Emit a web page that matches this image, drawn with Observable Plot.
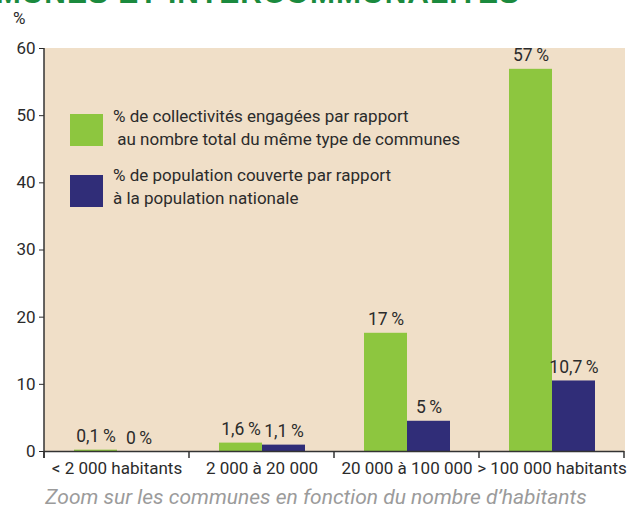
<!DOCTYPE html>
<html><head><meta charset="utf-8">
<script src="https://cdn.jsdelivr.net/npm/d3@7"></script>
<script src="https://cdn.jsdelivr.net/npm/@observablehq/plot@0.6"></script>
<style>
html,body{margin:0;padding:0;background:#fff;}
#wrap{position:relative;width:632px;height:513px;overflow:hidden;font-family:Roboto,sans-serif;color:#2b2b2b;}
#title{position:absolute;right:112px;top:-22px;white-space:nowrap;font:bold 30px "Liberation Sans",Arial,sans-serif;line-height:1;color:#1b8a3e;letter-spacing:1px;}
#unit{position:absolute;left:13px;top:8px;font-size:17px;}
.sw{position:absolute;left:70px;width:33px;height:32px;}
.lt{position:absolute;left:113px;font-size:17px;line-height:23px;white-space:pre;}
#caption{position:absolute;left:0;width:632px;top:485px;text-align:center;font-style:italic;font-size:21px;color:#9b9b9b;}
</style></head><body><div id="wrap"></div><script>
const categories = ["< 2 000 habitants", "2 000 à 20 000", "20 000 à 100 000", "> 100 000 habitants"];
const seriesKeys = ["coll", "pop"];
const seriesNames = [
  "% de collectivités engagées par rapport\n au nombre total du même type de communes",
  "% de population couverte par rapport\nà la population nationale"
];
const collectivites = [0.2, 1.25, 17.6, 56.9];
const population = [0, 0.95, 4.5, 10.5];
const collLabels = ["0,1\u2009%", "1,6\u2009%", "17\u2009%", "57\u2009%"];
const popLabels = ["0\u2009%", "1,1\u2009%", "5\u2009%", "10,7\u2009%"];
const yTicks = [0, 10, 20, 30, 40, 50, 60];
const colors = ["#8dc63f", "#302d78"];
const bg = "#f0dfc8";
const titleText = "COMMUNES ET INTERCOMMUNALITÉS";
const unitText = "%";
const captionText = "Zoom sur les communes en fonction du nombre d’habitants";

const data = categories.flatMap((c, i) => [
  {cat: c, key: seriesKeys[0], value: collectivites[i], label: collLabels[i]},
  {cat: c, key: seriesKeys[1], value: population[i], label: popLabels[i]}
]);

const chart = Plot.plot({
  width: 632, height: 482,
  marginTop: 48, marginBottom: 31, marginLeft: 44, marginRight: 8,
  style: {fontFamily: "Roboto, sans-serif", fontSize: "17px", color: "#2b2b2b", background: "transparent", overflow: "visible"},
  fx: {domain: categories, padding: 0, label: null, tickSize: 0, tickPadding: 10, axis: "bottom"},
  x: {domain: seriesKeys, paddingInner: 0, paddingOuter: 0.686, axis: null},
  y: {domain: [0, 60], ticks: yTicks, tickSize: 5, tickPadding: 4, label: null},
  color: {domain: seriesKeys, range: colors},
  marks: [
    Plot.frame({fill: bg, stroke: bg, strokeWidth: 1}),
    Plot.barY(data, {fx: "cat", x: "key", y: "value", fill: "key"}),
    Plot.ruleY([0], {stroke: "#333", strokeWidth: 1.5}),
    Plot.text(data, {fx: "cat", x: "key", y: "value", text: "label", lineAnchor: "bottom", dy: -8, fontSize: 17.5, fill: "#2b2b2b"})
  ]
});

// axis line and boundary ticks from Plot's own scales
const fxs = chart.scale("fx"), ys = chart.scale("y");
const y0 = ys.apply(0), yTop = ys.apply(60);
const svg = d3.select(chart);
const g = svg.append("g").attr("stroke", "#333").attr("stroke-width", 1.5);
const x0 = fxs.apply(categories[0]);
g.append("line").attr("x1", x0).attr("x2", x0).attr("y1", yTop).attr("y2", y0 + 7);
const bounds = categories.map(c => fxs.apply(c)).concat([fxs.apply(categories[categories.length - 1]) + fxs.bandwidth]);
bounds.forEach(b => g.append("line").attr("x1", b).attr("x2", b).attr("y1", y0).attr("y2", y0 + 7));

const wrap = document.getElementById("wrap");
wrap.appendChild(chart);
const add = (html) => { wrap.insertAdjacentHTML("beforeend", html); };
add(`<div id="title">${titleText}</div>`);
add(`<div id="unit">${unitText}</div>`);
add(`<div class="sw" style="top:114px;background:${colors[0]}"></div>`);
add(`<div class="sw" style="top:175px;background:${colors[1]}"></div>`);
const l1 = document.createElement("div"); l1.className = "lt"; l1.style.top = "105px"; l1.textContent = seriesNames[0]; wrap.appendChild(l1);
const l2 = document.createElement("div"); l2.className = "lt"; l2.style.top = "164px"; l2.textContent = seriesNames[1]; wrap.appendChild(l2);
const cap = document.createElement("div"); cap.id = "caption"; cap.textContent = captionText; wrap.appendChild(cap);
</script></body></html>
